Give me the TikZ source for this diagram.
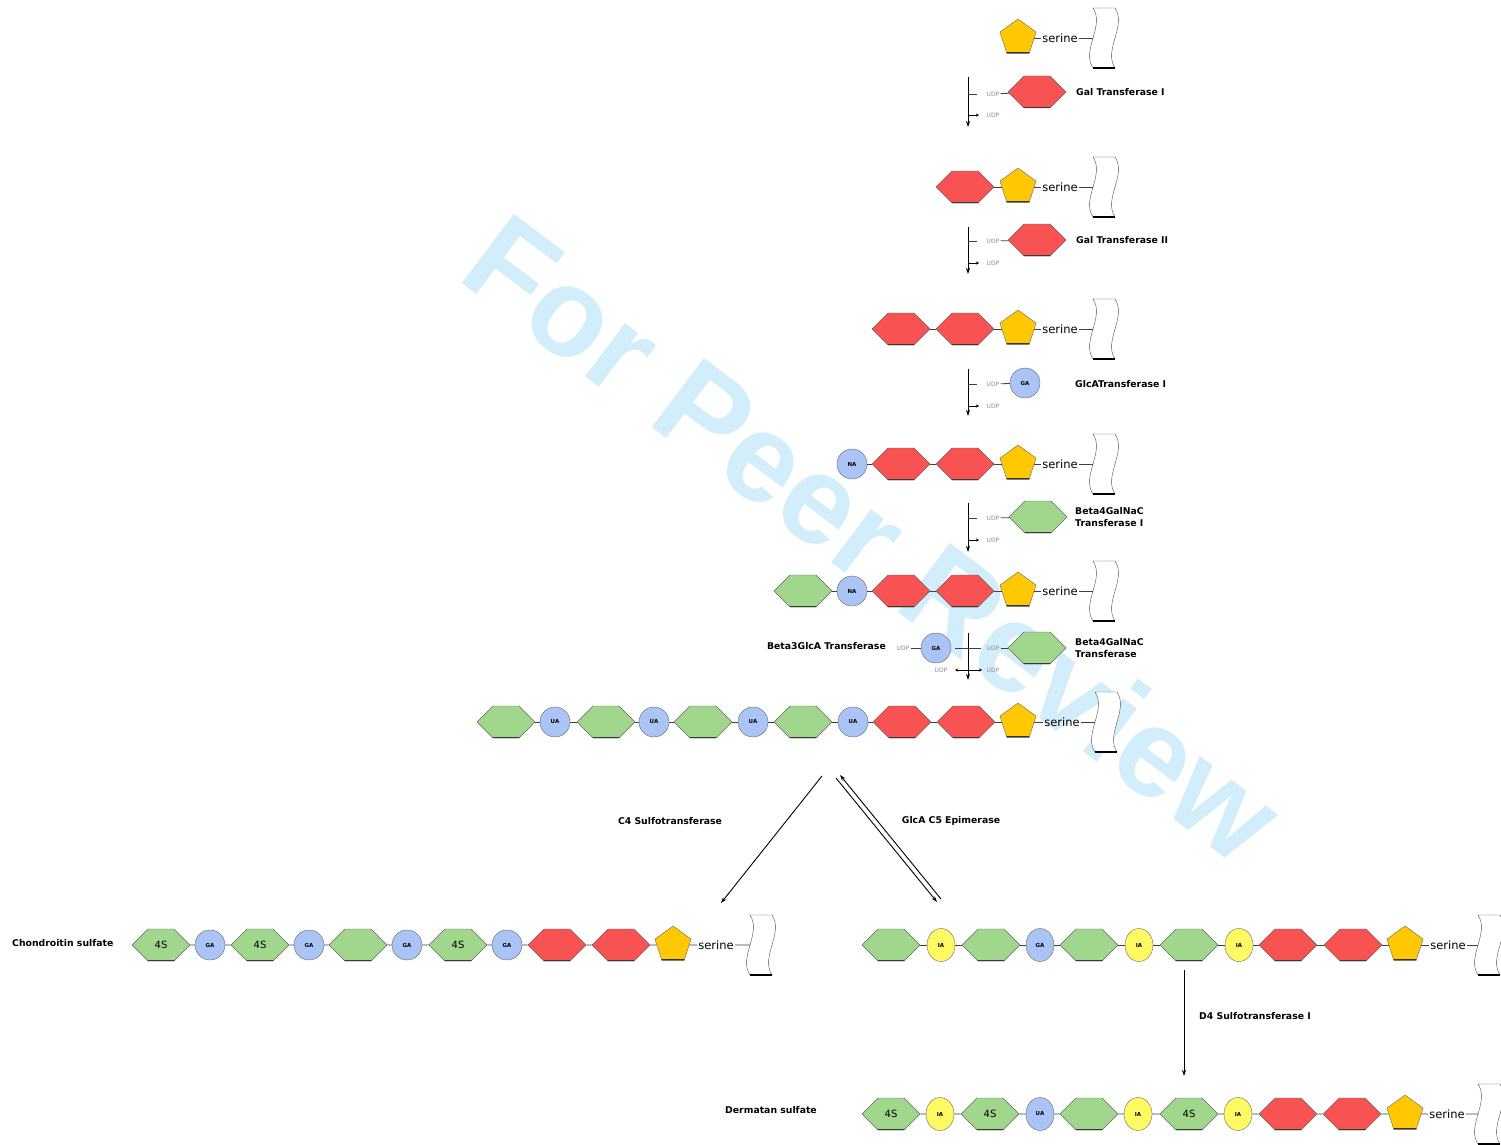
\documentclass[tikz,border=0pt]{standalone}
\usepackage{fontspec}
\setmainfont{DejaVu Sans}
\newfontfamily\markfont{Liberation Sans}
\usetikzlibrary{shapes.geometric,shapes.symbols,arrows.meta}
\definecolor{galred}{RGB}{248,82,82}
\definecolor{nacgreen}{RGB}{160,215,140}
\definecolor{seryellow}{RGB}{255,200,0}
\definecolor{glcblue}{RGB}{170,196,246}
\definecolor{idoyellow}{RGB}{255,250,100}
\definecolor{peerblue}{RGB}{210,238,250}
\tikzset{protein/.pic={
  \draw[black!70,fill=white] (-10,-30) .. controls (2,-12) and (-22,12) .. (-10,30) -- (12,30)
    .. controls (0,12) and (24,-12) .. (12,-30) -- cycle;
  \draw[line width=1.4pt] (-10,30) -- (12,30);
  \coordinate (-in) at (-10,0);}}
\begin{document}
\begin{tikzpicture}[x=1pt,y=-1pt,
  sugar/.style={draw=black!60,inner sep=0pt},
  base/.style={path picture={\draw[black!80,line width=2.4pt] (path picture bounding box.south west) -- (path picture bounding box.south east);}},
  hexr/.style={sugar,base,signal,signal to=east and west,fill=galred,minimum width=58pt,minimum height=32pt},
  hexg/.style={hexr,fill=nacgreen,font=\fontsize{10}{10}\selectfont},
  pent/.style={sugar,base,regular polygon,regular polygon sides=5,fill=seryellow,minimum size=38pt},
  acid/.style={sugar,circle,fill=glcblue,minimum size=30pt,font=\bfseries\fontsize{5.5}{6}\selectfont},
  ido/.style={sugar,ellipse,fill=idoyellow,minimum width=28pt,minimum height=33pt,font=\bfseries\fontsize{5.5}{6}\selectfont},
  idob/.style={ido,fill=glcblue},
  ser/.style={inner sep=1pt,font=\fontsize{11.5}{12}\selectfont},
  udp/.style={text=black!45,inner sep=1pt,font=\fontsize{6}{6}\selectfont},
  enz/.style={inner sep=0pt,font=\bfseries\fontsize{9.3}{12}\selectfont,align=left},
  link/.style={draw=black!75,line width=0.8pt},
  flow/.style={line width=0.9pt,-{Stealth[length=6pt,width=4pt]}},
  tick/.style={line width=0.6pt,-{Stealth[length=3pt,width=3pt]}}]
\useasboundingbox (0,0) rectangle (1501,1145);
\node[text=peerblue,rotate=-37,font=\markfont\bfseries\fontsize{126}{126}\selectfont] (wm) at (874,538) {For Peer Review};

\node[pent] (p1) at (1018,38) {};
\node[ser] (s1) at (1060,38) {serine};
\pic (w1) at (1103,38) {protein};
\draw[link] (p1) -- (s1) (s1) -- (w1-in);

\coordinate (t1a) at (968,77);
\coordinate (t1b) at (968,127);
\node[udp] (u1a) at (993,94) {UDP};
\node[udp] (u1b) at (993,115) {UDP};
\node[hexr] (d1) at (1037,92) {};
\node[enz,anchor=west] (n1) at (1076,92) {Gal Transferase I};
\draw[flow] (t1a) -- (t1b);
\draw[link] (t1a |- u1a) -- ++(9,0);
\draw[tick] (t1a |- u1b) -- ++(11,0);
\draw[link] (u1a) -- (d1);

\node[hexr] (h2a) at (965,187) {};
\node[pent] (p2) at (1018,187) {};
\node[ser] (s2) at (1060,187) {serine};
\pic (w2) at (1103,187) {protein};
\draw[link] (h2a) -- (p2) (p2) -- (s2) (s2) -- (w2-in);

\coordinate (t2a) at (968,227);
\coordinate (t2b) at (968,274);
\node[udp] (u2a) at (993,241) {UDP};
\node[udp] (u2b) at (993,263) {UDP};
\node[hexr] (d2) at (1037,240) {};
\node[enz,anchor=west] (n2) at (1076,240) {Gal Transferase II};
\draw[flow] (t2a) -- (t2b);
\draw[link] (t2a |- u2a) -- ++(9,0);
\draw[tick] (t2a |- u2b) -- ++(11,0);
\draw[link] (u2a) -- (d2);

\node[hexr] (h3a) at (901,329) {};
\node[hexr] (h3b) at (965,329) {};
\node[pent] (p3) at (1018,329) {};
\node[ser] (s3) at (1060,329) {serine};
\pic (w3) at (1103,329) {protein};
\draw[link] (h3a) -- (h3b) (h3b) -- (p3) (p3) -- (s3) (s3) -- (w3-in);

\coordinate (t3a) at (968,369);
\coordinate (t3b) at (968,416);
\node[udp] (u3a) at (993,384) {UDP};
\node[udp] (u3b) at (993,406) {UDP};
\node[acid] (d3) at (1025,383) {GA};
\node[enz,anchor=west] (n3) at (1075,384) {GlcATransferase I};
\draw[flow] (t3a) -- (t3b);
\draw[link] (t3a |- u3a) -- ++(9,0);
\draw[tick] (t3a |- u3b) -- ++(11,0);
\draw[link] (u3a) -- (d3);

\node[acid] (c4a) at (852,464) {NA};
\node[hexr] (h4a) at (901,464) {};
\node[hexr] (h4b) at (965,464) {};
\node[pent] (p4) at (1018,464) {};
\node[ser] (s4) at (1060,464) {serine};
\pic (w4) at (1103,464) {protein};
\draw[link] (c4a) -- (h4a) (h4a) -- (h4b) (h4b) -- (p4) (p4) -- (s4) (s4) -- (w4-in);

\coordinate (t4a) at (968,503);
\coordinate (t4b) at (968,552);
\node[udp] (u4a) at (993,518) {UDP};
\node[udp] (u4b) at (993,540) {UDP};
\node[hexg] (d4) at (1038,517) {};
\node[enz,anchor=west] (n4) at (1075,517) {Beta4GalNaC\\Transferase I};
\draw[flow] (t4a) -- (t4b);
\draw[link] (t4a |- u4a) -- ++(9,0);
\draw[tick] (t4a |- u4b) -- ++(11,0);
\draw[link] (u4a) -- (d4);

\node[hexg] (h5a) at (803,591) {};
\node[acid] (c5a) at (852,591) {NA};
\node[hexr] (h5b) at (901,591) {};
\node[hexr] (h5c) at (965,591) {};
\node[pent] (p5) at (1018,591) {};
\node[ser] (s5) at (1060,591) {serine};
\pic (w5) at (1103,591) {protein};
\draw[link] (h5a) -- (c5a) (c5a) -- (h5b) (h5b) -- (h5c) (h5c) -- (p5) (p5) -- (s5) (s5) -- (w5-in);

\coordinate (t5a) at (968,633);
\coordinate (t5b) at (968,680);
\node[udp] (u5a) at (993,648) {UDP};
\node[udp] (u5b) at (993,670) {UDP};
\node[hexg] (d5) at (1037,648) {};
\node[enz,anchor=west] (n5) at (1075,648) {Beta4GalNaC\\Transferase};
\node[udp] (u5c) at (903,648) {UDP};
\node[udp] (u5d) at (941,670) {UDP};
\node[acid] (d5b) at (936,648) {GA};
\node[enz,anchor=east] (n5b) at (886,646) {Beta3GlcA Transferase};
\draw[flow] (t5a) -- (t5b);
\draw[link] ([xshift=-13pt]t5a |- u5a) -- ++(26,0);
\draw[tick,{Stealth[length=3pt,width=3pt]}-{Stealth[length=3pt,width=3pt]}] ([xshift=-13pt]t5a |- u5b) -- ++(27,0);
\draw[link] (u5a) -- (d5) (u5c) -- (d5b);

\node[hexg] (g6a) at (506,722) {};
\node[acid] (c6a) at (555,722) {UA};
\node[hexg] (g6b) at (606,722) {};
\node[acid] (c6b) at (654,722) {UA};
\node[hexg] (g6c) at (703,722) {};
\node[acid] (c6c) at (753,722) {UA};
\node[hexg] (g6d) at (803,722) {};
\node[acid] (c6d) at (853,722) {UA};
\node[hexr] (r6a) at (902,722) {};
\node[hexr] (r6b) at (966,722) {};
\node[pent] (p6) at (1018,722) {};
\node[ser] (s6) at (1062,722) {serine};
\pic (w6) at (1105,722) {protein};
\draw[link] (g6a) -- (c6a) (c6a) -- (g6b) (g6b) -- (c6b) (c6b) -- (g6c) (g6c) -- (c6c) (c6c) -- (g6d)
  (g6d) -- (c6d) (c6d) -- (r6a) (r6a) -- (r6b) (r6b) -- (p6) (p6) -- (s6) (s6) -- (w6-in);

\coordinate (k1) at (822,776);
\coordinate (k2) at (721,903);
\coordinate (e1) at (836,778);
\coordinate (e2) at (937,902);
\coordinate (e3) at (941,899);
\coordinate (e4) at (840,775);
\draw[flow] (k1) -- (k2);
\draw[flow] (e1) -- (e2);
\draw[flow] (e3) -- (e4);
\node[enz] (n6) at (670,821) {C4 Sulfotransferase};
\node[enz] (n7) at (951,821) {GlcA C5 Epimerase};

\node[enz,anchor=west] (cs) at (12,943) {Chondroitin sulfate};
\node[hexg] (g7a) at (161,945) {4S};
\node[acid] (c7a) at (210,945) {GA};
\node[hexg] (g7b) at (260,945) {4S};
\node[acid] (c7b) at (309,945) {GA};
\node[hexg] (g7c) at (358,945) {};
\node[acid] (c7c) at (407,945) {GA};
\node[hexg] (g7d) at (458,945) {4S};
\node[acid] (c7d) at (507,945) {GA};
\node[hexr] (r7a) at (557,945) {};
\node[hexr] (r7b) at (621,945) {};
\node[pent] (p7) at (673,945) {};
\node[ser] (s7) at (716,945) {serine};
\pic (w7) at (760,945) {protein};
\draw[link] (g7a) -- (c7a) (c7a) -- (g7b) (g7b) -- (c7b) (c7b) -- (g7c) (g7c) -- (c7c) (c7c) -- (g7d)
  (g7d) -- (c7d) (c7d) -- (r7a) (r7a) -- (r7b) (r7b) -- (p7) (p7) -- (s7) (s7) -- (w7-in);

\node[hexg] (g8a) at (891,945) {};
\node[ido] (i8a) at (941,945) {IA};
\node[hexg] (g8b) at (991,945) {};
\node[idob] (i8b) at (1040,945) {GA};
\node[hexg] (g8c) at (1089,945) {};
\node[ido] (i8c) at (1139,945) {IA};
\node[hexg] (g8d) at (1189,945) {};
\node[ido] (i8d) at (1239,945) {IA};
\node[hexr] (r8a) at (1288,945) {};
\node[hexr] (r8b) at (1353,945) {};
\node[pent] (p8) at (1405,945) {};
\node[ser] (s8) at (1448,945) {serine};
\pic (w8) at (1488,945) {protein};
\draw[link] (g8a) -- (i8a) (i8a) -- (g8b) (g8b) -- (i8b) (i8b) -- (g8c) (g8c) -- (i8c) (i8c) -- (g8d)
  (g8d) -- (i8d) (i8d) -- (r8a) (r8a) -- (r8b) (r8b) -- (p8) (p8) -- (s8) (s8) -- (w8-in);

\coordinate (d4a) at (1184,970);
\coordinate (d4b) at (1184,1076);
\draw[flow] (d4a) -- (d4b);
\node[enz,anchor=west] (n8) at (1199,1016) {D4 Sulfotransferase I};

\node[enz] (ds) at (771,1110) {Dermatan sulfate};
\node[hexg] (g9a) at (891,1114) {4S};
\node[ido] (i9a) at (940,1114) {IA};
\node[hexg] (g9b) at (990,1114) {4S};
\node[idob] (i9b) at (1040,1114) {UA};
\node[hexg] (g9c) at (1089,1114) {};
\node[ido] (i9c) at (1138,1114) {IA};
\node[hexg] (g9d) at (1189,1114) {4S};
\node[ido] (i9d) at (1238,1114) {IA};
\node[hexr] (r9a) at (1288,1114) {};
\node[hexr] (r9b) at (1352,1114) {};
\node[pent] (p9) at (1405,1114) {};
\node[ser] (s9) at (1447,1114) {serine};
\pic (w9) at (1488,1114) {protein};
\draw[link] (g9a) -- (i9a) (i9a) -- (g9b) (g9b) -- (i9b) (i9b) -- (g9c) (g9c) -- (i9c) (i9c) -- (g9d)
  (g9d) -- (i9d) (i9d) -- (r9a) (r9a) -- (r9b) (r9b) -- (p9) (p9) -- (s9) (s9) -- (w9-in);
\end{tikzpicture}
\end{document}
